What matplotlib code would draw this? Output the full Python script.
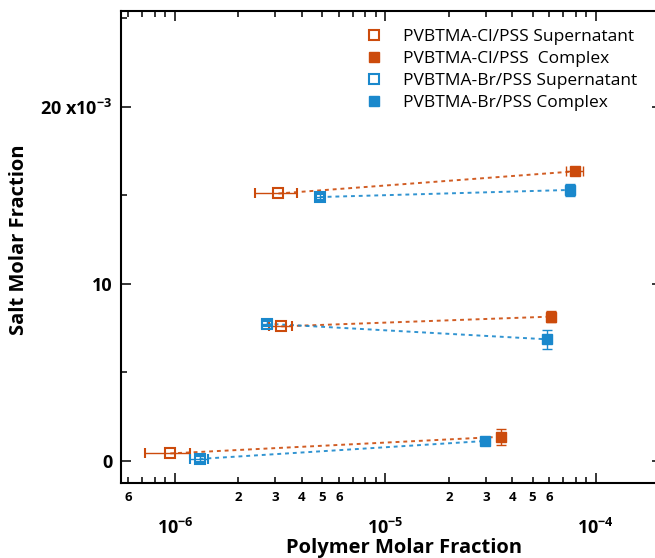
import matplotlib
matplotlib.use("Agg")
import matplotlib.pyplot as plt
from matplotlib.lines import Line2D
from matplotlib.ticker import FixedLocator, FixedFormatter

plt.rcParams['font.family'] = ['Open Sans', 'DejaVu Sans']
plt.rcParams['mathtext.fontset'] = 'custom'
plt.rcParams['mathtext.rm'] = 'Open Sans:bold'
plt.rcParams['mathtext.it'] = 'Open Sans:bold'
plt.rcParams['mathtext.bf'] = 'Open Sans:bold'

# data: three salt levels, supernatant vs complex
cl_sup_x = [9.5e-7, 3.2e-6, 3.1e-6]
cl_sup_y = [0.43e-3, 7.6e-3, 15.1e-3]
cl_sup_xerr = [2.3e-7, 0.4e-6, 0.7e-6]

cl_cpx_x = [3.55e-5, 6.1e-5, 7.95e-5]
cl_cpx_y = [1.37e-3, 8.15e-3, 16.35e-3]
cl_cpx_xerr = [1.5e-6, 1.5e-6, 7.3e-6]
cl_cpx_yerr = [0.45e-3, 0.3e-3, 0.2e-3]

br_sup_x = [1.31e-6, 2.73e-6, 4.88e-6]
br_sup_y = [0.12e-3, 7.75e-3, 14.9e-3]
br_sup_xerr = [0.13e-6, 0.15e-6, 0.2e-6]
br_sup_yerr = [0.15e-3, 0.15e-3, 0.15e-3]

br_cpx_x = [2.97e-5, 5.85e-5, 7.5e-5]
br_cpx_y = [1.13e-3, 6.87e-3, 15.3e-3]
br_cpx_xerr = [1e-6, 2e-6, 2e-6]
br_cpx_yerr = [0.1e-3, 0.52e-3, 0.35e-3]

labels = ['PVBTMA-Cl/PSS Supernatant', 'PVBTMA-Cl/PSS  Complex',
          'PVBTMA-Br/PSS Supernatant', 'PVBTMA-Br/PSS Complex']

cl_col = '#cc4b0c'
br_col = '#1a88cc'

fig = plt.figure(figsize=(6.55, 5.58), dpi=100)
ax = fig.add_axes([121/655, 1 - 483/558, 541/655, 472/558])

# tie lines
for i in range(3):
    ax.plot([cl_sup_x[i], cl_cpx_x[i]], [cl_sup_y[i], cl_cpx_y[i]],
            color=cl_col, ls=(0, (2, 2)), lw=1.4, alpha=0.9, zorder=1)
    ax.plot([br_sup_x[i], br_cpx_x[i]], [br_sup_y[i], br_cpx_y[i]],
            color=br_col, ls=(0, (2, 2)), lw=1.4, alpha=0.9, zorder=1)

ekw = dict(elinewidth=1, capsize=3.5, capthick=1, ls='none', ms=7, zorder=3)
ax.errorbar(cl_sup_x, cl_sup_y, xerr=cl_sup_xerr, marker='s', mfc='none',
            mec=cl_col, mew=1.5, color=cl_col, **ekw)
ax.errorbar(cl_cpx_x, cl_cpx_y, xerr=cl_cpx_xerr, yerr=cl_cpx_yerr, marker='s',
            mfc=cl_col, mec=cl_col, color=cl_col, **ekw)
ax.errorbar(br_sup_x, br_sup_y, xerr=br_sup_xerr, yerr=br_sup_yerr, marker='s',
            mfc='none', mec=br_col, mew=1.5, color=br_col, **ekw)
ax.errorbar(br_cpx_x, br_cpx_y, xerr=br_cpx_xerr, yerr=br_cpx_yerr, marker='s',
            mfc=br_col, mec=br_col, color=br_col, **ekw)

ax.set_xscale('log')
ax.set_xlim(5.54e-7, 2.06e-4)
ax.set_ylim(-1.24e-3, 25.4e-3)

# x ticks
ax.xaxis.set_major_locator(FixedLocator([1e-6, 1e-5, 1e-4]))
ax.xaxis.set_major_formatter(FixedFormatter([r'10$^{-6}$', r'10$^{-5}$', r'10$^{-4}$']))
minor_pos = []
minor_lab = []
for dec in [1e-7, 1e-6, 1e-5, 1e-4]:
    for m in range(2, 10):
        v = m * dec
        if 5.54e-7 <= v <= 2.06e-4:
            minor_pos.append(v)
            minor_lab.append(str(m) if (m <= 6 and v < 1e-4) else '')
ax.xaxis.set_minor_locator(FixedLocator(minor_pos))
ax.xaxis.set_minor_formatter(FixedFormatter(minor_lab))

# y ticks
ax.yaxis.set_major_locator(FixedLocator([0, 0.01, 0.02]))
ax.yaxis.set_major_formatter(FixedFormatter(['0', '10', r'20 x10$^{-3}$']))
ax.yaxis.set_minor_locator(FixedLocator([0.005, 0.015, 0.025]))

ax.tick_params(which='both', direction='in', top=True, right=True, width=1.1)
ax.tick_params(which='major', length=7.5)
ax.tick_params(which='minor', length=4)
ax.tick_params(axis='x', which='major', pad=25, labelsize=13)
ax.tick_params(axis='x', which='minor', pad=6, labelsize=9.5)
ax.tick_params(axis='y', which='major', pad=6, labelsize=13)
for lab in ax.get_xticklabels(which='both') + ax.get_yticklabels():
    lab.set_fontweight('bold')
for s in ax.spines.values():
    s.set_linewidth(1.5)

ax.set_xlabel('Polymer Molar Fraction', fontsize=14.5, fontweight='bold')
ax.xaxis.set_label_coords(0.523, -0.1165)
ax.set_ylabel('Salt Molar Fraction', fontsize=14.5, fontweight='bold')
ax.yaxis.set_label_coords(-0.17, 0.515)

handles = [
    Line2D([], [], ls='none', marker='s', ms=7, mfc='none', mec=cl_col, mew=1.5),
    Line2D([], [], ls='none', marker='s', ms=7, mfc=cl_col, mec=cl_col),
    Line2D([], [], ls='none', marker='s', ms=7, mfc='none', mec=br_col, mew=1.5),
    Line2D([], [], ls='none', marker='s', ms=7, mfc=br_col, mec=br_col),
]
ax.legend(handles, labels, loc='upper left', bbox_to_anchor=(0.451, 0.962),
          frameon=False, fontsize=12.5, handlelength=1.0, handletextpad=1.2,
          labelspacing=0.34, borderpad=0, borderaxespad=0)

fig.savefig('out.png', dpi=100)
